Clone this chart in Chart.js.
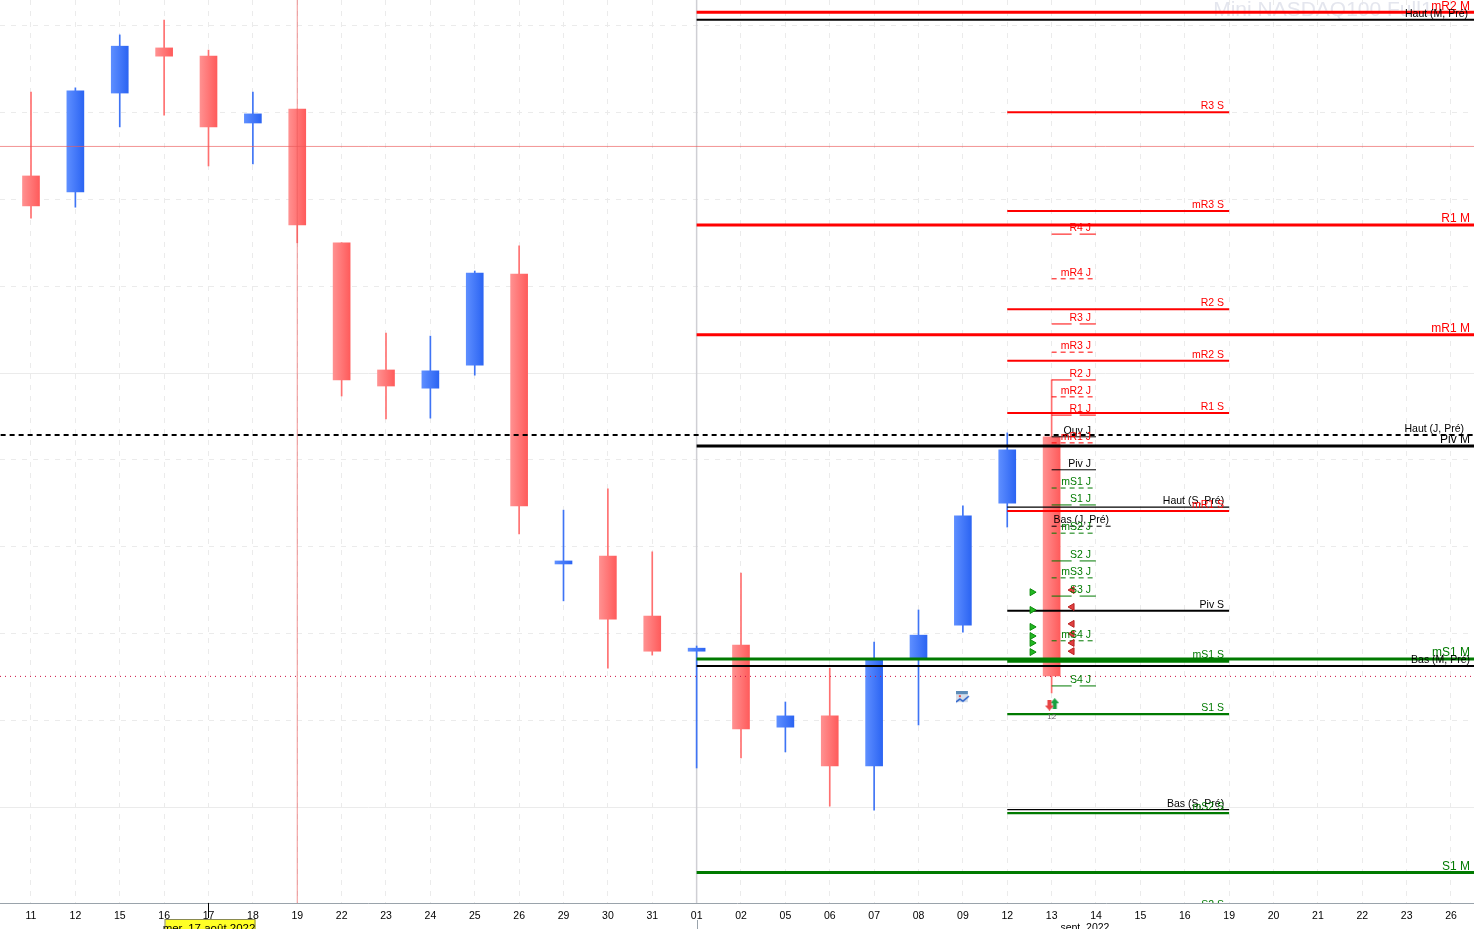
<!DOCTYPE html>
<html>
<head>
<meta charset="utf-8">
<title>Mini NASDAQ100</title>
<script src="https://cdn.jsdelivr.net/npm/chart.js@4"></script>
<style>
  html, body { margin: 0; padding: 0; background: #fff; overflow: hidden; }
  canvas { display: block; }
</style>
</head>
<body>
<canvas id="priceChart" width="1474" height="929"></canvas>
<script>
// Days shown on the time axis
const dayLabels = ['11','12','15','16','17','18','19','22','23','24','25','26','29','30','31','01','02','05','06','07','08','09','12','13','14','15','16','19','20','21','22','23','26'];

// Candles
const opens  = [13454,13417,13645,13749,13730,13576,13608,13300,13007,12965,13018,13228,12560,12578,12440,12359,12373,12184,12210,12095,12341,12419,12700,12853];
const highs  = [13647,13657,13779,13813,13744,13647,13608,13300,13092,13085,13235,13293,12684,12733,12588,12371,12539,12242,12320,12380,12454,12694,12862,12984];
const lows   = [13357,13382,13567,13594,13477,13482,13300,12947,12894,12896,12995,12629,12475,12320,12350,12090,12113,12127,12002,11993,12189,12403,12645,12263];
const closes = [13385,13650,13753,13730,13567,13597,13341,12984,12970,13005,13230,12694,12567,12433,12359,12366,12180,12210,12095,12341,12396,12671,12823,12302];

// Pivot levels
const monthNames  = ['mR2 M','Haut (M, Pré)','R1 M','mR1 M','Piv M','mS1 M','Bas (M, Pré)','S1 M'];
const monthValues = [13831,13814,13341,13088,12832,12341,12325,11849];
const weekNames   = ['R3 S','mR3 S','R2 S','mR2 S','R1 S','Haut (S, Pré)','mR1 S','Piv S','mS1 S','S1 S','Bas (S, Pré)','mS2 S','S2 S'];
const weekValues  = [13601,13373,13147,13028,12908,12691,12682,12452,12336,12214,11994,11986,11760];
const dayNames    = ['R4 J','mR4 J','R3 J','mR3 J','R2 J','mR2 J','R1 J','Ouv J','mR1 J','Piv J','mS1 J','S1 J','mS2 J','S2 J','mS3 J','S3 J','mS4 J','S4 J'];
const dayValues   = [13320,13217,13113,13048,12984,12945,12903,12853,12839,12777,12735,12696,12631,12567,12528,12486,12383,12279];
const prevDayHigh = 12857;
const prevDayLow  = 12647;

// Crosshair and last price
const crossDay = 6;
const crossPrice = 13522;
const lastPrice = 12301;
const hoverDay = 4;

// Order markers between 12 and 13 sept.
const buyMarks  = [12495,12454,12415,12394,12378,12357];
const sellMarks = [12500,12461,12422,12399,12378,12359];

const red = '#ff0000', green = '#007a00', black = '#000000';
const LEFT = -31 / 44.375, RIGHT = (1474 - 31) / 44.375;
const PRICE_MAX = 13000 + 373 * 2.304, PRICE_MIN = 13000 - 530 * 2.304;

function levelColor(name) {
    const n = name.replace(/^m/, '');
    if (n[0] === 'R') return red;
    if (n[0] === 'S') return green;
    return black;
}

function levelLine(name, value, from, to, width, dash) {
    return {
        type: 'line', label: name, order: 2,
        data: [{ x: from, y: value }, { x: to, y: value }],
        borderColor: levelColor(name), borderWidth: width, borderDash: dash || [],
        pointRadius: 0, tension: 0
    };
}

function isUp(i) {
    return closes[i] >= opens[i];
}

function candleFill(context) {
    if (context.type !== 'data') return '#ff7070';
    const up = isUp(context.dataIndex);
    const cx = context.chart.scales.x.getPixelForValue(context.dataIndex);
    // scales have no size yet on the first pass
    if (!isFinite(cx)) return up ? '#3f74f5' : '#ff7070';
    const g = context.chart.ctx.createLinearGradient(cx - 8, 0, cx + 9, 0);
    g.addColorStop(0, up ? '#5c8dff' : '#ff8f8f');
    g.addColorStop(1, up ? '#2a63f2' : '#ff5a5a');
    return g;
}

// Small marker images used as point styles
function markerCanvas(w, h, draw) {
    const c = document.createElement('canvas');
    c.width = w; c.height = h;
    draw(c.getContext('2d'));
    return c;
}
function arrowMarker(color, up) {
    return markerCanvas(9, 11, g => {
        g.fillStyle = color;
        g.beginPath();
        const pts = [[4.5,0],[9,5],[6.5,5],[6.5,11],[2.5,11],[2.5,5],[0,5]];
        pts.forEach(p => g.lineTo(p[0], up ? p[1] : 11 - p[1]));
        g.closePath();
        g.fill();
    });
}
const calendarIcon = markerCanvas(14, 13, g => {
    g.fillStyle = '#d5dfeb'; g.fillRect(0, 1, 12, 10);
    g.fillStyle = '#5c8cb8'; g.fillRect(0, 0, 12, 3);
    g.fillStyle = '#e05050'; g.fillRect(3, 4, 2, 2);
    g.strokeStyle = '#1f58c8'; g.lineWidth = 1.5;
    g.beginPath(); g.moveTo(0, 11); g.lineTo(4, 8); g.lineTo(7, 10); g.lineTo(13, 5); g.stroke();
});

const levelDatasets = [];
monthNames.forEach((n, i) => {
    levelDatasets.push(levelLine(n, monthValues[i], 15, RIGHT + 1, n.startsWith('Haut') || n.startsWith('Bas') ? 2 : 3));
});
weekNames.forEach((n, i) => {
    let w = 2;
    if (n.startsWith('Bas') || n.startsWith('Haut')) w = 1.2;
    if (n === 'mS1 S') w = 3;
    if (n === 'mS2 S' || n === 'S1 S') w = 2.4;
    levelDatasets.push(levelLine(n, weekValues[i], 22, 27, w));
});
dayNames.forEach((n, i) => {
    let dash = [20, 8, 16, 0];
    if (n[0] === 'm') dash = [5, 4];
    if (levelColor(n) === black) dash = [];
    levelDatasets.push(levelLine(n, dayValues[i], 23, 24, 1, dash));
});
levelDatasets.push(levelLine('Bas (J, Pré)', prevDayLow, 23, 24.36, 1, [5, 4]));
levelDatasets.push(levelLine('Haut (J, Pré)', prevDayHigh, LEFT - 1, RIGHT + 1, 2, [5, 4]));

// Month separator, crosshair and last price lines
function guideLine(points, color, width, dash, order) {
    return { type: 'line', data: points, borderColor: color, borderWidth: width, borderDash: dash || [], pointRadius: 0, order: order };
}

// Text drawn over the series, kept clipped to the plot like the original
const textPlugin = {
    id: 'chartText',
    beforeDatasetsDraw(chart) {
        const { ctx, scales } = chart;
        ctx.save();
        ctx.font = '21px "Liberation Sans"';
        ctx.fillStyle = '#e4e6ee';
        ctx.textBaseline = 'middle';
        ctx.textAlign = 'left';
        ctx.fillText('Mini NASDAQ100 Full1', scales.x.getPixelForValue(26.64), 10);
        ctx.restore();
    },
    afterDatasetsDraw(chart) {
        const { ctx, chartArea, scales } = chart;
        const X = v => scales.x.getPixelForValue(v);
        const Y = v => scales.y.getPixelForValue(v);
        ctx.save();
        ctx.beginPath();
        ctx.rect(chartArea.left, chartArea.top, chartArea.right - chartArea.left, chartArea.bottom - chartArea.top);
        ctx.clip();
        ctx.textBaseline = 'middle';
        ctx.textAlign = 'right';
        ctx.font = '12px "Liberation Sans"';
        monthNames.forEach((n, i) => {
            if (/Haut|Bas/.test(n)) return;
            ctx.fillStyle = levelColor(n);
            ctx.fillText(n, 1470, Y(monthValues[i]) - 6);
        });
        ctx.font = '10.5px "Liberation Sans"';
        ctx.fillStyle = black;
        ctx.fillText('Haut (M, Pré)', 1468, Y(monthValues[1]) - 6);
        ctx.fillText('Bas (M, Pré)', 1470, Y(monthValues[6]) - 6);
        ctx.fillText('Haut (J, Pré)', 1464, Y(prevDayHigh) - 6);
        ctx.fillText('Bas (J, Pré)', X(24.36) - 3, Y(prevDayLow) - 6);
        weekNames.forEach((n, i) => {
            ctx.font = /Haut|Bas/.test(n) ? '10.5px "Liberation Sans"' : '10.5px "Liberation Sans"';
            ctx.fillStyle = levelColor(n);
            ctx.fillText(n, X(27) - 5, Y(weekValues[i]) - 6);
        });
        ctx.font = '10.5px "Liberation Sans"';
        dayNames.forEach((n, i) => {
            ctx.fillStyle = levelColor(n);
            ctx.fillText(n, X(24) - 5, Y(dayValues[i]) - 6);
        });
        ctx.restore();

        // Labels under the time axis, cut by the bottom of the window
        ctx.save();
        ctx.textAlign = 'center';
        ctx.textBaseline = 'alphabetic';
        ctx.font = '10.5px "Liberation Sans"';
        ctx.fillStyle = black;
        ctx.fillText('sept. 2022', X(23.75), 931);
        ctx.strokeStyle = '#9aa3ab';
        ctx.lineWidth = 1;
        ctx.beginPath();
        ctx.moveTo(Math.round(X(15)) + 0.5, 920);
        ctx.lineTo(Math.round(X(15)) + 0.5, 929);
        ctx.stroke();
        ctx.strokeStyle = black;
        ctx.beginPath();
        ctx.moveTo(Math.round(X(hoverDay)) + 0.5, 903);
        ctx.lineTo(Math.round(X(hoverDay)) + 0.5, 918);
        ctx.stroke();
        ctx.fillStyle = '#ffff26';
        ctx.fillRect(X(hoverDay) - 43, 920, 90, 10);
        ctx.strokeStyle = '#8a8a50';
        ctx.strokeRect(X(hoverDay) - 43.5, 919.5, 90, 11);
        ctx.fillStyle = black;
        ctx.font = '11.5px "Liberation Sans"';
        ctx.fillText('mer. 17 août 2022', X(hoverDay) + 0.5, 932);
        ctx.font = '8px "Liberation Sans"';
        ctx.fillStyle = '#666';
        ctx.fillText('12', X(23), 719);
        ctx.restore();
    }
};

new Chart(document.getElementById('priceChart'), {
    data: {
        datasets: [
            // candle wicks
            {
                type: 'bar', order: 6, barThickness: 1, grouped: false,
                data: lows.map((l, i) => ({ x: i, y: [l, highs[i]] })),
                backgroundColor: ctx => (ctx.type === 'data' && isUp(ctx.dataIndex)) ? '#3f74f5' : '#ff7070'
            },
            // candle bodies
            {
                type: 'bar', order: 5, barThickness: 17, grouped: false,
                data: opens.map((o, i) => ({ x: i, y: [o, closes[i]] })),
                backgroundColor: candleFill
            },
            guideLine([{ x: crossDay, y: PRICE_MIN }, { x: crossDay, y: PRICE_MAX }], 'rgba(235,90,90,0.65)', 1, [], 3),
            guideLine([{ x: LEFT, y: crossPrice }, { x: RIGHT, y: crossPrice }], 'rgba(235,90,90,0.65)', 1, [], 3),
            guideLine([{ x: LEFT, y: lastPrice }, { x: RIGHT, y: lastPrice }], '#d01040', 1, [1, 4], 3),
            guideLine([{ x: 15, y: PRICE_MIN }, { x: 15, y: PRICE_MAX }], '#cfcfd4', 1.5, [], 7),
            ...levelDatasets,
            // order markers
            {
                type: 'scatter', order: 1, showLine: false,
                data: buyMarks.map(v => ({ x: 22.56, y: v })),
                pointStyle: 'triangle', rotation: 90, radius: 4,
                backgroundColor: '#22b822', borderColor: '#0a8a0a', borderWidth: 1
            },
            {
                type: 'scatter', order: 1, showLine: false,
                data: sellMarks.map(v => ({ x: 23.46, y: v })),
                pointStyle: 'triangle', rotation: -90, radius: 4,
                backgroundColor: '#e04040', borderColor: '#b82020', borderWidth: 1
            },
            {
                type: 'scatter', order: 1, showLine: false,
                data: [{ x: 22.95, y: 12235 }],
                pointStyle: arrowMarker('#e84545', false)
            },
            {
                type: 'scatter', order: 1, showLine: false,
                data: [{ x: 23.07, y: 12238 }],
                pointStyle: arrowMarker('#18a040', true)
            },
            {
                type: 'scatter', order: 1, showLine: false,
                data: [{ x: 21, y: 12252 }],
                pointStyle: calendarIcon
            }
        ]
    },
    options: {
        responsive: false,
        animation: false,
        layout: { padding: 0, autoPadding: false },
        plugins: { legend: { display: false }, tooltip: { enabled: false } },
        scales: {
            x: {
                type: 'linear',
                offset: false,
                min: LEFT,
                max: RIGHT,
                afterBuildTicks: axis => { axis.ticks = dayLabels.map((d, i) => ({ value: i })); },
                afterFit: axis => { axis.height = 26; },
                ticks: {
                    autoSkip: false, maxRotation: 0, padding: 7, color: '#000',
                    font: { family: 'Liberation Sans', size: 10.5 },
                    callback: v => dayLabels[v]
                },
                grid: { color: '#ebebeb', drawTicks: false, lineWidth: 1, offset: false },
                border: { color: '#9aa3ab', width: 1, dash: [5, 6] }
            },
            y: {
                type: 'linear',
                min: PRICE_MIN,
                max: PRICE_MAX,
                afterBuildTicks: axis => {
                    const t = [];
                    for (let v = 12000; v <= 13800; v += 200) t.push({ value: v });
                    axis.ticks = t;
                },
                afterFit: axis => { axis.width = 0; },
                ticks: { display: false },
                grid: { color: '#ebebeb', drawTicks: false, lineWidth: 1 },
                border: {
                    display: false,
                    dash: ctx => (ctx.tick && ctx.tick.value % 1000 === 0 ? [] : [5, 6])
                }
            }
        }
    },
    plugins: [textPlugin]
});
</script>
</body>
</html>
